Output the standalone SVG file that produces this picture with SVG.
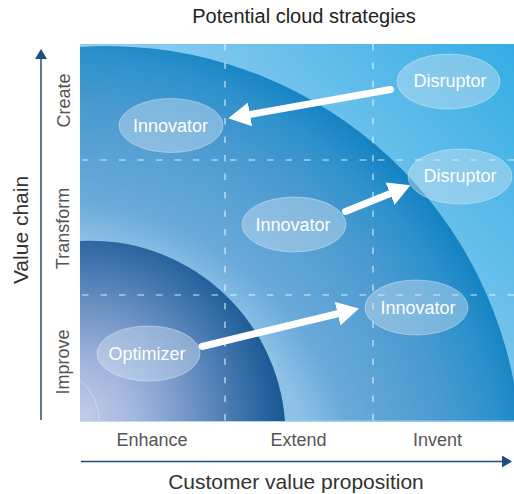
<svg xmlns="http://www.w3.org/2000/svg" width="514" height="494" viewBox="0 0 514 494">
<defs>
<linearGradient id="bgGrad" gradientUnits="userSpaceOnUse" x1="80" y1="421" x2="514" y2="44">
<stop offset="0" stop-color="#b8e0f6"/>
<stop offset="0.5" stop-color="#8ccbef"/>
<stop offset="1" stop-color="#33ade4"/>
</linearGradient>
<radialGradient id="bigGrad" gradientUnits="userSpaceOnUse" cx="40" cy="520" r="520">
<stop offset="0" stop-color="#a8d0ee"/>
<stop offset="0.54" stop-color="#8ec1e6"/>
<stop offset="0.62" stop-color="#6aaada"/>
<stop offset="0.8" stop-color="#4a9ad0"/>
<stop offset="0.9" stop-color="#2c91cc"/>
<stop offset="0.95" stop-color="#1a86c5"/>
<stop offset="1" stop-color="#077ebe"/>
</radialGradient>
<radialGradient id="innerGrad" gradientUnits="userSpaceOnUse" cx="80" cy="421" r="200">
<stop offset="0" stop-color="#c5cde9"/>
<stop offset="0.3" stop-color="#a0b4dc"/>
<stop offset="0.5" stop-color="#7b9bcb"/>
<stop offset="0.8" stop-color="#3f74ad"/>
<stop offset="1" stop-color="#1b5a96"/>
</radialGradient>
<marker id="head" markerUnits="userSpaceOnUse" viewBox="0 0 22 24" refX="1" refY="12" markerWidth="22" markerHeight="24" orient="auto">
<path d="M0,0 L22,12 L0,24 Z" fill="#ffffff"/>
</marker>
<marker id="axisHead" markerUnits="userSpaceOnUse" viewBox="0 0 10 12" refX="0" refY="6" markerWidth="10" markerHeight="12" orient="auto">
<path d="M0,0 L10,6 L0,12 Z" fill="#1d4f7c"/>
</marker>
</defs>
<style>
text { font-family: "Liberation Sans", Arial, sans-serif; }
.title { font-size: 20px; fill: #222222; text-anchor: middle; }
.axis-title { font-size: 21px; fill: #333333; text-anchor: middle; }
.tick { font-size: 18px; fill: #555555; text-anchor: middle; }
.node ellipse { fill: #d4e4f4; fill-opacity: 0.42; stroke: #ffffff; stroke-opacity: 0.35; stroke-width: 1; }
.node text { font-size: 18px; fill: #ffffff; text-anchor: middle; }
.grid { stroke: #ffffff; stroke-opacity: 0.55; stroke-width: 1.7; stroke-dasharray: 6.5 12; fill: none; }
.conn { stroke: #ffffff; stroke-width: 7; stroke-linecap: round; fill: none; marker-end: url(#head); }
.axis { stroke: #1d4f7c; stroke-width: 1.5; fill: none; marker-end: url(#axisHead); }
</style>

<text class="title" x="304" y="23">Potential cloud strategies</text>

<g id="plot">
<rect x="80" y="44" width="434" height="378" fill="url(#bgGrad)"/>
<path d="M80,47 A414,414 0 0 1 514,383 L514,420.5 L80,420.5 Z" fill="url(#bigGrad)"/>
<path d="M80,241 A195,195 0 0 1 285,421 L80,421 Z" fill="url(#innerGrad)"/>
<path d="M80,380 A57,57 0 0 1 99.5,421" fill="none" stroke="#ffffff" stroke-opacity="0.35" stroke-width="1"/>
<line class="grid" x1="225" y1="44" x2="225" y2="421"/>
<line class="grid" x1="373" y1="44" x2="373" y2="421"/>
<line class="grid" x1="82" y1="160" x2="514" y2="160"/>
<line class="grid" x1="82" y1="295" x2="514" y2="295"/>
</g>

<g id="axes">
<line class="axis" x1="41" y1="420" x2="41" y2="59"/>
<line class="axis" x1="81" y1="461.5" x2="502" y2="461.5"/>
<text class="axis-title" transform="translate(28,230) rotate(-90)">Value chain</text>
<text class="tick" transform="translate(70,100.5) rotate(-90)">Create</text>
<text class="tick" transform="translate(69,228.5) rotate(-90)">Transform</text>
<text class="tick" transform="translate(69,362) rotate(-90)">Improve</text>
<text class="tick" x="152" y="446">Enhance</text>
<text class="tick" x="298.5" y="446">Extend</text>
<text class="tick" x="437.5" y="446">Invent</text>
<text class="axis-title" x="296" y="489">Customer value proposition</text>
</g>

<g id="node-disruptor-create" class="node">
<ellipse cx="448.5" cy="81.5" rx="51.5" ry="27.5"/>
<text x="450" y="87">Disruptor</text>
</g>
<g id="node-innovator-create" class="node">
<ellipse cx="171" cy="125.5" rx="52" ry="27"/>
<text x="170.5" y="131.5">Innovator</text>
</g>
<g id="node-disruptor-transform" class="node">
<ellipse cx="460" cy="176.5" rx="52" ry="27.5"/>
<text x="460" y="182">Disruptor</text>
</g>
<g id="node-innovator-transform" class="node">
<ellipse cx="294" cy="224.5" rx="52" ry="27.5"/>
<text x="293" y="230.5">Innovator</text>
</g>
<g id="node-innovator-improve" class="node">
<ellipse cx="416.5" cy="307.5" rx="51.5" ry="27.5"/>
<text x="418" y="313.5">Innovator</text>
</g>
<g id="node-optimizer" class="node">
<ellipse cx="148.5" cy="353.5" rx="51.5" ry="27.5"/>
<text x="147" y="359.5">Optimizer</text>
</g>

<g id="connectors">
<line class="conn" x1="390.5" y1="89.5" x2="249" y2="114.6"/>
<line class="conn" x1="345.5" y1="211.5" x2="391" y2="193.2"/>
<line class="conn" x1="202" y1="346.5" x2="338.6" y2="313.5"/>
</g>
</svg>
